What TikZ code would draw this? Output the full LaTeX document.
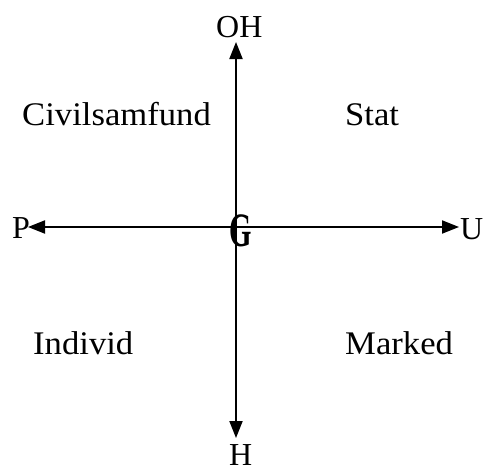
\documentclass[tikz,border=0pt]{standalone}
\usepackage{fontspec}
\setmainfont{Liberation Serif}
\usetikzlibrary{arrows.meta}
\begin{document}
\begin{tikzpicture}[x=1pt,y=-1pt,
  lbl/.style={inner sep=0pt,anchor=base west,font=\fontsize{32}{38}\selectfont},
  quad/.style={inner sep=0pt,anchor=base west,font=\fontsize{33}{40}\selectfont,xscale=1.05},
  axis/.style={line width=2pt,{Triangle[length=17pt,width=13pt]}-{Triangle[length=17pt,width=13pt]}}]
\useasboundingbox (0,0) rectangle (484,471);
\coordinate (top) at (236,42);
\coordinate (bot) at (236,438);
\coordinate (lft) at (28,227);
\coordinate (rgt) at (459,227);
\draw[axis] (top) -- (bot);
\draw[axis] (lft) -- (rgt);
\node[lbl] (oh) at (216,37) {OH};
\node[lbl] (h) at (229,465) {H};
\node[lbl] (p) at (12,238) {P};
\node[lbl] (u) at (460,239) {U};
\node[inner sep=0pt] (g) at (241,231) {\fontsize{48}{50}\selectfont\scalebox{0.6}[1]{\bfseries G}};
\node[quad] (civ) at (22,125) {Civilsamfund};
\node[quad] (stat) at (345,125) {Stat};
\node[quad] (ind) at (33,354) {Individ};
\node[quad] (mar) at (345,354) {Marked};
\end{tikzpicture}
\end{document}
